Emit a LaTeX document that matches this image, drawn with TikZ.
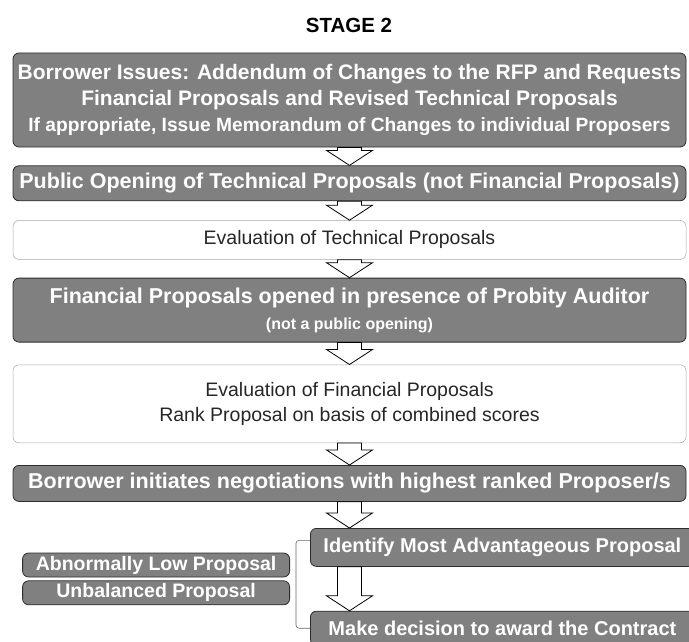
\documentclass[tikz,border=0pt]{standalone}
\usepackage{fontspec}
\setmainfont{Liberation Sans}
\usetikzlibrary{positioning}
\usetikzlibrary{calc}
\definecolor{boxgrey}{RGB}{128,128,128}
\definecolor{edgegrey}{RGB}{45,45,45}

% hollow block arrow from the bottom of one box to the top of the next
\newcommand{\flowarrow}[2]{%
  \filldraw[fill=white, draw=black, line width=0.8pt]
    let \p1=(#1), \p2=(#2) in
    (\x1-12pt,\y1) -- (\x1-12pt,\y2+15pt) -- (\x1-23pt,\y2+15pt) -- (\x1,\y2)
    -- (\x1+23pt,\y2+15pt) -- (\x1+12pt,\y2+15pt) -- (\x1+12pt,\y1) -- cycle;}

\begin{document}
\begin{tikzpicture}[x=1pt, y=-1pt,
  every node/.style={inner sep=0pt, align=center},
  darkbox/.style={draw=edgegrey, fill=boxgrey, rounded corners=6pt, line width=0.8pt,
    text=white, font=\bfseries\fontsize{21.5}{26}\selectfont, minimum width=673pt},
  lightbox/.style={draw=gray!70, line width=0.5pt, rounded corners=6pt,
    text=black!85, font=\fontsize{19.5}{25}\selectfont, minimum width=673pt},
  sidebox/.style={darkbox, minimum width=267pt, minimum height=24pt,
    font=\bfseries\fontsize{19.5}{22}\selectfont},
  bracket/.style={draw=black!60, line width=0.6pt, rounded corners=3pt}]

  \useasboundingbox (0,0) rectangle (689,642);

  \node[font=\bfseries\fontsize{20.5}{24}\selectfont] (title) at (349,25) {STAGE 2};

  % main column
  \node[darkbox, minimum height=94pt, font=\bfseries\fontsize{21}{26}\selectfont] (b1) at (349.5,100)
    {Borrower Issues: Addendum of Changes to the RFP and Requests\\
     Financial Proposals and Revised Technical Proposals\\
     \fontsize{19.2}{23}\selectfont If appropriate, Issue Memorandum of Changes to individual Proposers};
  \node[darkbox, minimum height=35pt, below=18pt of b1] (b2)
    {Public Opening of Technical Proposals (not Financial Proposals)};
  \node[lightbox, minimum height=39pt, below=19pt of b2] (b3)
    {Evaluation of Technical Proposals};
  \node[darkbox, minimum height=64pt, below=18pt of b3] (b4)
    {Financial Proposals opened in presence of Probity Auditor\\
     \fontsize{16}{20}\selectfont (not a public opening)};
  \node[lightbox, minimum height=78pt, below=22pt of b4] (b5)
    {Evaluation of Financial Proposals\\Rank Proposal on basis of combined scores};
  \node[darkbox, minimum height=36pt, below=22pt of b5] (b6)
    {Borrower initiates negotiations with highest ranked Proposer/s};

  % decision part
  \node[darkbox, minimum width=384pt, minimum height=38pt, anchor=north west,
    font=\bfseries\fontsize{20}{24}\selectfont] (b7) at (310,528)
    {Identify Most Advantageous Proposal};
  \node[darkbox, minimum width=384pt, minimum height=34pt, below=44pt of b7,
    font=\bfseries\fontsize{20}{24}\selectfont] (b8)
    {Make decision to award the Contract};
  \node[sidebox, anchor=east] (abn) at (290,565) {Abnormally Low Proposal};
  \node[sidebox, below=3pt of abn] (unb) {Unbalanced Proposal};

  \draw[bracket] ([yshift=7pt]b7.west) -| ([xshift=-14pt]b8.west) -- (b8.west);

  % arrows
  \flowarrow{b1.south}{b2.north}
  \flowarrow{b2.south}{b3.north}
  \flowarrow{b3.south}{b4.north}
  \flowarrow{b4.south}{b5.north}
  \flowarrow{b5.south}{b6.north}
  \flowarrow{b6.south}{b7.north}
  \flowarrow{b7.south -| b6.south}{b8.north}
\end{tikzpicture}
\end{document}
